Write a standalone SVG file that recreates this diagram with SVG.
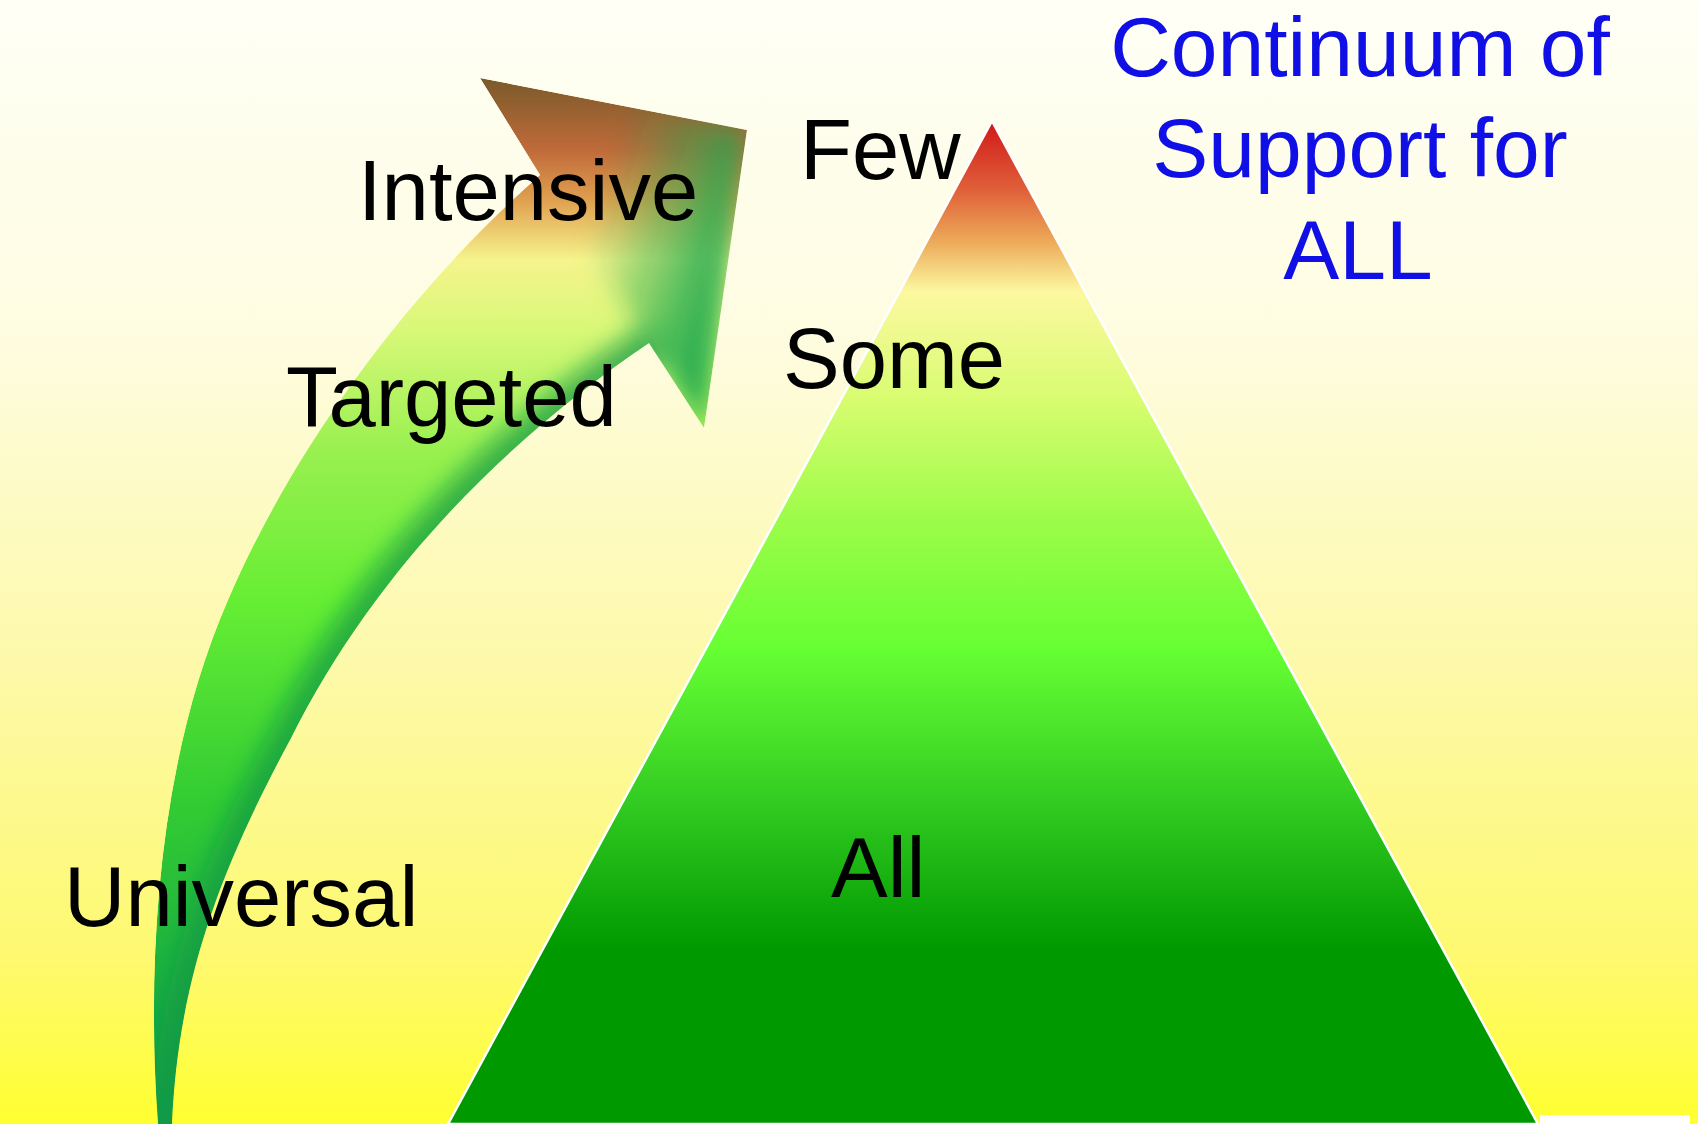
<svg xmlns="http://www.w3.org/2000/svg" width="1698" height="1124" viewBox="0 0 1698 1124">
<style>
.lbl{font-family:"Liberation Sans",Arial,sans-serif;font-size:85px;fill:#000}
.ttl{font-family:"Liberation Sans",Arial,sans-serif;font-size:84px;fill:#1010e6;text-anchor:middle}
</style>
<defs>
<linearGradient id="bg" x1="0" y1="0" x2="0" y2="1124" gradientUnits="userSpaceOnUse">
<stop offset="0" stop-color="#fffff6"/>
<stop offset="0.3" stop-color="#fefce0"/>
<stop offset="0.6" stop-color="#fdf9a8"/>
<stop offset="0.85" stop-color="#fef970"/>
<stop offset="1" stop-color="#ffff30"/>
</linearGradient>
<linearGradient id="tri" x1="0" y1="121" x2="0" y2="1124" gradientUnits="userSpaceOnUse">
<stop offset="0" stop-color="#d01818"/>
<stop offset="0.069" stop-color="#e0603a"/>
<stop offset="0.119" stop-color="#eca858"/>
<stop offset="0.17" stop-color="#fcf8a0"/>
<stop offset="0.278" stop-color="#d8fc70"/>
<stop offset="0.398" stop-color="#9cfc48"/>
<stop offset="0.527" stop-color="#66ff33"/>
<stop offset="0.677" stop-color="#33cc22"/>
<stop offset="0.826" stop-color="#009900"/>
<stop offset="1" stop-color="#009900"/>
</linearGradient>
<linearGradient id="arr" x1="0" y1="78" x2="0" y2="1124" gradientUnits="userSpaceOnUse">
<stop offset="0" stop-color="#7a5a2a"/>
<stop offset="0.069" stop-color="#c06a3a"/>
<stop offset="0.117" stop-color="#e0a050"/>
<stop offset="0.174" stop-color="#f6f48c"/>
<stop offset="0.241" stop-color="#d8f878"/>
<stop offset="0.356" stop-color="#99f050"/>
<stop offset="0.5" stop-color="#66ee33"/>
<stop offset="0.69" stop-color="#33cc33"/>
<stop offset="1" stop-color="#0a9a4a"/>
</linearGradient>
<linearGradient id="headg" x1="600" y1="200" x2="735" y2="240" gradientUnits="userSpaceOnUse">
<stop offset="0" stop-color="#1ea84e" stop-opacity="0"/>
<stop offset="1" stop-color="#1ea84e" stop-opacity="0.95"/>
</linearGradient>
<filter id="blur" x="-20%" y="-20%" width="140%" height="140%">
<feGaussianBlur stdDeviation="12"/>
</filter>
<clipPath id="arrclip">
<path d="M 158 1124 C 146 960 158 760 228 600 C 288 460 398 300 540 175 L 480 78 L 747 130 L 704 428 L 649 343 C 520 430 380 560 290 740 C 220 870 178 980 172 1124 Z"/>
</clipPath>
</defs>
<rect id="background" x="0" y="0" width="1698" height="1124" fill="url(#bg)"/>
<rect x="1540" y="1115" width="150" height="9" fill="#ffffff"/>
<g id="connectors">
<g clip-path="url(#arrclip)">
<path d="M 158 1124 C 146 960 158 760 228 600 C 288 460 398 300 540 175 L 480 78 L 747 130 L 704 428 L 649 343 C 520 430 380 560 290 740 C 220 870 178 980 172 1124 Z" fill="url(#arr)"/>
<path d="M 660 340 C 520 430 380 560 290 740 C 220 870 178 980 172 1124" fill="none" stroke="#139a44" stroke-width="40" stroke-opacity="0.75" filter="url(#blur)"/>
<polygon points="480,78 747,130 704,428 649,343" fill="url(#headg)" filter="url(#blur)"/>
</g>
</g>
<g id="pyramid">
<polygon points="992,121 1538,1124 448,1124" fill="url(#tri)" stroke="#ffffff" stroke-width="2.5"/>
</g>
<g id="label-intensive"><text class="lbl" x="358" y="220">Intensive</text></g>
<g id="label-targeted"><text class="lbl" x="286" y="426">Targeted</text></g>
<g id="label-universal"><text class="lbl" x="64" y="926">Universal</text></g>
<g id="label-few"><text class="lbl" x="800" y="179">Few</text></g>
<g id="label-some"><text class="lbl" x="783" y="388">Some</text></g>
<g id="label-all"><text class="lbl" x="831" y="897">All</text></g>
<g id="title">
<text class="ttl" x="1360" y="76">Continuum of</text>
<text class="ttl" x="1360" y="177">Support for</text>
<text class="ttl" x="1358" y="279">ALL</text>
</g>
</svg>
